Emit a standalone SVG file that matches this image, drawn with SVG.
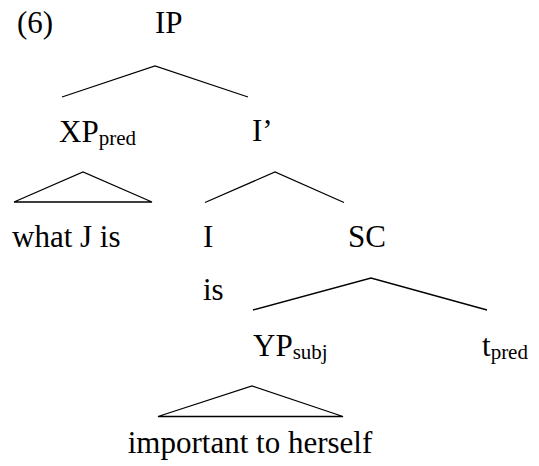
<svg xmlns="http://www.w3.org/2000/svg" width="539" height="466" viewBox="0 0 539 466">
<style>
.t{font-family:'Liberation Serif','Times New Roman',serif;font-size:31px;fill:#000}
.sub{font-size:21px}
.edge{stroke:#000;stroke-width:1.3;fill:none}
</style>
<rect width="539" height="466" fill="#fff"/>
<text class="t" x="17" y="33">(6)</text>
<g id="IP"><text class="t" x="155" y="33">IP</text></g>
<g id="XPpred"><text class="t" x="59" y="142">XP<tspan class="sub" dy="3">pred</tspan></text></g>
<g id="Ibar"><text class="t" x="252" y="141">I’</text></g>
<g id="whatJis"><text class="t" x="12" y="247">what J is</text></g>
<g id="I"><text class="t" x="203" y="247">I</text></g>
<g id="SC"><text class="t" x="348" y="247">SC</text></g>
<g id="is"><text class="t" x="203" y="300">is</text></g>
<g id="YPsubj"><text class="t" x="253" y="356">YP<tspan class="sub" dy="3">subj</tspan></text></g>
<g id="tpred"><text class="t" x="482" y="356">t<tspan class="sub" dy="3">pred</tspan></text></g>
<g id="important"><text class="t" x="250" y="453" text-anchor="middle">important to herself</text></g>
<g id="connectors">
<path class="edge" d="M62,97 L155,66 L248,97"/>
<path class="edge" d="M14,202 L83,172 L152,202 Z"/>
<path class="edge" d="M205,202.5 L275,172 L344,202.5"/>
<path class="edge" d="M253,310 L371,278 L487,310"/>
<path class="edge" d="M158,416.5 L252,386 L343,416.5 Z"/>
</g>
</svg>
